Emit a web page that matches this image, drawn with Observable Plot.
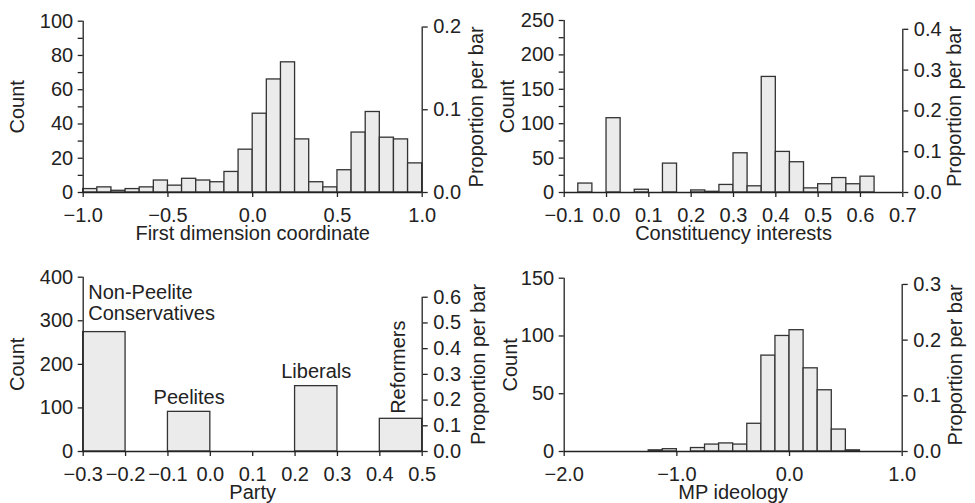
<!DOCTYPE html>
<html><head><meta charset="utf-8">
<script src="https://cdn.jsdelivr.net/npm/d3@7"></script>
<script src="https://cdn.jsdelivr.net/npm/@observablehq/plot@0.6"></script>
<style>
body{margin:0;background:#fff;}
#root{position:relative;width:975px;height:503px;overflow:hidden;background:#fff;}
#root > div{position:absolute;}
#root svg{display:block;overflow:visible;}
</style></head><body><div id="root"></div>
<script>
// ---- Panel 1: First dimension coordinate ----
const fdBinStart = [-1.0,-0.9167,-0.8333,-0.75,-0.6667,-0.5833,-0.5,-0.4167,-0.3333,-0.25,-0.1667,-0.0833,0,0.0833,0.1667,0.25,0.3333,0.4167,0.5,0.5833,0.6667,0.75,0.8333,0.9167];
const fdCounts   = [2,3,1,2,3,7,4,8,7,6,12,25,46,66,76,31,6,3,13,35,47,32,31,17];
const fdBinWidth = 0.0833;
const fdXTicks = [-1,-0.5,0,0.5,1];
const fdYTicks = [0,10,20,30,40,50,60,70,80,90,100];
const fdYLabels = [0,20,40,60,80,100];
const fdPropTicks = [0,0.1,0.2];

// ---- Panel 2: Constituency interests ----
const ciBinStart = [-0.0667,0,0.0667,0.1333,0.2,0.2333,0.2667,0.3,0.3333,0.3667,0.4,0.4333,0.4667,0.5,0.5333,0.5667,0.6];
const ciCounts   = [13,108,4,42,3,1,11,57,9,168,59,44,6,12,21,12,23];
const ciBinWidth = 0.0333;
const ciXTicks = [-0.1,0,0.1,0.2,0.3,0.4,0.5,0.6,0.7];
const ciYTicks = [0,25,50,75,100,125,150,175,200,225,250];
const ciYLabels = [0,50,100,150,200,250];
const ciPropTicks = [0,0.1,0.2,0.3,0.4];

// ---- Panel 3: Party ----
const partyNames  = ["Non-Peelite\nConservatives","Peelites","Liberals","Reformers"];
const partyStart  = [-0.3,-0.1,0.2,0.4];
const partyCounts = [274,91,150,75];
const partyBinWidth = 0.1;
const partyXTicks = [-0.3,-0.2,-0.1,0,0.1,0.2,0.3,0.4,0.5];
const partyYTicks = [0,100,200,300,400];
const partyPropTicks = [0,0.1,0.2,0.3,0.4,0.5,0.6];

// ---- Panel 4: MP ideology ----
const mpBinStart = [-1.25,-1.125,-0.875,-0.75,-0.625,-0.5,-0.375,-0.25,-0.125,0,0.125,0.25,0.375,0.5];
const mpCounts   = [1,2,3,6,7,6,24,83,100,105,72,53,19,1];
const mpBinWidth = 0.125;
const mpXTicks = [-2,-1,0,1];
const mpYTicks = [0,50,100,150];
const mpPropTicks = [0,0.1,0.2,0.3];

const FONT = "'Liberation Sans', Arial, Helvetica, sans-serif";
const INK = "#222";
const f1 = d3.format(".1f");

function panel(cfg) {
  const rows = cfg.starts.map((s, i) => ({x1: s, x2: s + cfg.binWidth, count: cfg.counts[i], name: cfg.names ? cfg.names[i] : null}));
  const N = d3.sum(cfg.counts);
  const propMax = d3.max(cfg.propTicks);
  const [mt, mr, mb, ml] = cfg.margins;
  const yMax = d3.max(cfg.yTicks);
  const plot = Plot.plot({
    width: cfg.width, height: cfg.height,
    marginTop: mt, marginRight: mr, marginBottom: mb, marginLeft: ml,
    x: {domain: cfg.xDomain},
    y: {domain: [0, yMax]},
    style: {fontFamily: FONT, fontSize: "20px", color: INK, background: "transparent", overflow: "visible"},
    marks: [
      Plot.rectY(rows, {x1: "x1", x2: "x2", y: "count", fill: "#ebebeb", stroke: "#333", strokeWidth: 1.3, inset: 0}),
      Plot.ruleY([0], {stroke: INK, strokeWidth: 1.3}),
      Plot.ruleX([cfg.xDomain[0]], {y1: 0, y2: yMax, stroke: INK, strokeWidth: 1.3}),
      Plot.ruleX([cfg.xDomain[1]], {y1: 0, y2: propMax * N, stroke: INK, strokeWidth: 1.3}),
      Plot.axisY(cfg.yTicks, {anchor: "left", tickSize: 5, tickPadding: 5, strokeWidth: 1.3, fontSize: 20,
        tickFormat: d => cfg.yLabels.includes(d) ? String(d) : "", label: null}),
      Plot.axisY(cfg.propTicks.map(p => p * N), {anchor: "right", tickSize: 5, tickPadding: 6, strokeWidth: 1.3, fontSize: 20,
        tickFormat: d => f1(d / N), label: null}),
      Plot.axisX(cfg.xTicks, {anchor: "bottom", tickSize: 5, tickPadding: 10, strokeWidth: 1.3, fontSize: 20,
        tickFormat: f1, label: null}),
      Plot.text([cfg.xLabel], {text: d => d, frameAnchor: "bottom", dy: 41, lineAnchor: "middle", textAnchor: "middle", fontSize: 20, fill: INK}),
      Plot.text(["Count"], {text: d => d, frameAnchor: "left", dx: cfg.countDx, rotate: -90, textAnchor: "middle", lineAnchor: "middle", fontSize: 20, fill: INK}),
      Plot.text(["Proportion per bar"], {text: d => d, frameAnchor: "right", dx: cfg.propDx, rotate: -90, textAnchor: "middle", lineAnchor: "middle", fontSize: 20, fill: INK}),
      ...(cfg.extra ? cfg.extra(rows) : [])
    ]
  });
  const holder = document.createElement("div");
  holder.style.left = cfg.left + "px";
  holder.style.top = cfg.top + "px";
  holder.style.width = cfg.width + "px";
  holder.style.height = cfg.height + "px";
  holder.appendChild(plot);
  document.getElementById("root").appendChild(holder);
}

panel({left: 0, top: 0, width: 487, height: 250, margins: [20.7, 65.3, 58, 82.7],
  starts: fdBinStart, counts: fdCounts, binWidth: fdBinWidth, xDomain: [-1, 1], xTicks: fdXTicks,
  yTicks: fdYTicks, yLabels: fdYLabels, propTicks: fdPropTicks,
  xLabel: "First dimension coordinate", countDx: -65.2, propDx: 54});

panel({left: 487, top: 0, width: 488, height: 250, margins: [20, 72.7, 58, 76.7],
  starts: ciBinStart, counts: ciCounts, binWidth: ciBinWidth, xDomain: [-0.1, 0.7], xTicks: ciXTicks,
  yTicks: ciYTicks, yLabels: ciYLabels, propTicks: ciPropTicks,
  xLabel: "Constituency interests", countDx: -56.2, propDx: 52});

panel({left: 0, top: 250, width: 487, height: 253, margins: [26.7, 65.3, 52, 82.7],
  starts: partyStart, counts: partyCounts, names: partyNames, binWidth: partyBinWidth, xDomain: [-0.3, 0.5], xTicks: partyXTicks,
  yTicks: partyYTicks, yLabels: partyYTicks, propTicks: partyPropTicks,
  xLabel: "Party", countDx: -65.2, propDx: 56,
  extra: rows => [
    Plot.text(rows.filter(d => d.name.startsWith("Non")), {x: "x1", y: "count", text: "name", textAnchor: "start", lineAnchor: "bottom", lineHeight: 1.05, dx: 5, dy: -12, fontSize: 20, fill: INK}),
    Plot.text(rows.filter(d => d.name === "Peelites" || d.name === "Liberals"), {x: d => (d.x1 + d.x2) / 2, y: "count", text: "name", lineAnchor: "bottom", dy: -8, fontSize: 20, fill: INK}),
    Plot.text(rows.filter(d => d.name === "Reformers"), {x: d => (d.x1 + d.x2) / 2, y: "count", text: "name", rotate: -90, textAnchor: "start", dx: -2, dy: -5, fontSize: 20, fill: INK})
  ]});

panel({left: 487, top: 250, width: 488, height: 253, margins: [27.7, 73.3, 52, 76.7],
  starts: mpBinStart, counts: mpCounts, binWidth: mpBinWidth, xDomain: [-2, 1], xTicks: mpXTicks,
  yTicks: mpYTicks, yLabels: mpYTicks, propTicks: mpPropTicks,
  xLabel: "MP ideology", countDx: -53.2, propDx: 53.3});
</script>
</body></html>
